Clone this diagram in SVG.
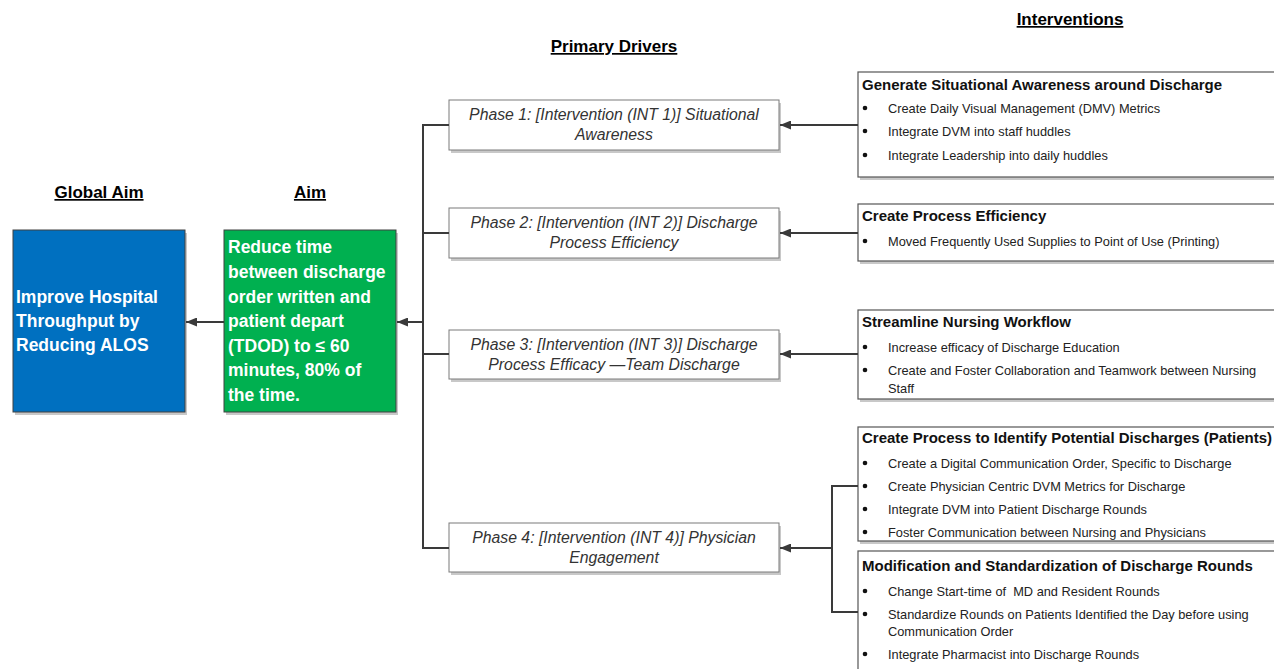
<svg xmlns="http://www.w3.org/2000/svg" width="1274" height="669" viewBox="0 0 1274 669">
<style>
.hdr{font-family:"Liberation Sans",Arial,sans-serif;font-weight:bold;font-size:17px;fill:#000;text-decoration:underline;text-anchor:middle}
.aim{font-family:"Liberation Sans",Arial,sans-serif;font-weight:bold;font-size:17.5px;fill:#fff}
.ph{font-family:"Liberation Sans",Arial,sans-serif;font-style:italic;font-size:15.8px;fill:#333;text-anchor:middle}
.phbox{fill:#fff;stroke:#7a7a7a;stroke-width:1}
.ibox{fill:#fff;stroke:#555;stroke-width:1.2}
.shadow{fill:#c8c8c8}
.ih{font-family:"Liberation Sans",Arial,sans-serif;font-weight:bold;font-size:15px;fill:#111}
.it{font-family:"Liberation Sans",Arial,sans-serif;font-size:12.8px;fill:#222}
.bul{fill:#111}
.con{fill:none;stroke:#3a3a3a;stroke-width:2}
</style>
<defs>
<marker id="arr" viewBox="0 0 11 9" refX="11" refY="4.5" markerWidth="11" markerHeight="9" markerUnits="userSpaceOnUse" orient="auto">
<path d="M0,0 L11,4.5 L0,9 z" fill="#3a3a3a"/>
</marker>
</defs>
<rect width="1274" height="669" fill="#fff"/>

<g id="headers">
<text class="hdr" x="99" y="198">Global Aim</text>
<text class="hdr" x="310" y="198">Aim</text>
<text class="hdr" x="614" y="52">Primary Drivers</text>
<text class="hdr" x="1070" y="25">Interventions</text>
</g>

<g id="global-aim">
<rect class="shadow" x="15" y="233" width="172" height="182"/>
<rect x="13" y="230" width="172" height="182" fill="#0070c0" stroke="#404040" stroke-width="1"/>
<text class="aim" x="16" y="303">Improve Hospital</text>
<text class="aim" x="16" y="327">Throughput by</text>
<text class="aim" x="16" y="351">Reducing ALOS</text>
</g>

<g id="aim">
<rect class="shadow" x="226" y="233" width="172" height="182"/>
<rect x="224" y="230" width="172" height="182" fill="#00b050" stroke="#404040" stroke-width="1"/>
<text class="aim" x="228" y="253">Reduce time</text>
<text class="aim" x="228" y="278">between discharge</text>
<text class="aim" x="228" y="303">order written and</text>
<text class="aim" x="228" y="327">patient depart</text>
<text class="aim" x="228" y="352">(TDOD) to ≤ 60</text>
<text class="aim" x="228" y="376">minutes, 80% of</text>
<text class="aim" x="228" y="401">the time.</text>
</g>

<g id="phase1">
<rect class="shadow" x="451" y="103" width="330" height="50"/>
<rect class="phbox" x="449" y="100" width="330" height="50"/>
<text class="ph" x="614" y="120">Phase 1: [Intervention (INT 1)] Situational</text>
<text class="ph" x="614" y="140">Awareness</text>
</g>
<g id="phase2">
<rect class="shadow" x="451" y="211" width="330" height="50"/>
<rect class="phbox" x="449" y="208" width="330" height="50"/>
<text class="ph" x="614" y="228">Phase 2: [Intervention (INT 2)] Discharge</text>
<text class="ph" x="614" y="248">Process Efficiency</text>
</g>
<g id="phase3">
<rect class="shadow" x="451" y="333" width="330" height="49"/>
<rect class="phbox" x="449" y="330" width="330" height="49"/>
<text class="ph" x="614" y="350">Phase 3: [Intervention (INT 3)] Discharge</text>
<text class="ph" x="614" y="370">Process Efficacy —Team Discharge</text>
</g>
<g id="phase4">
<rect class="shadow" x="451" y="526" width="330" height="49"/>
<rect class="phbox" x="449" y="523" width="330" height="49"/>
<text class="ph" x="614" y="543">Phase 4: [Intervention (INT 4)] Physician</text>
<text class="ph" x="614" y="563">Engagement</text>
</g>

<g id="int1">
<rect class="shadow" x="860" y="75" width="420" height="105"/>
<rect class="ibox" x="858" y="72" width="422" height="105"/>
<text class="ih" x="862" y="90">Generate Situational Awareness around Discharge</text>
<circle class="bul" cx="865" cy="108" r="2.3"/><text class="it" x="888" y="113">Create Daily Visual Management (DMV) Metrics</text>
<circle class="bul" cx="865" cy="131" r="2.3"/><text class="it" x="888" y="136">Integrate DVM into staff huddles</text>
<circle class="bul" cx="865" cy="155" r="2.3"/><text class="it" x="888" y="160">Integrate Leadership into daily huddles</text>
</g>
<g id="int2">
<rect class="shadow" x="860" y="207" width="420" height="57"/>
<rect class="ibox" x="858" y="204" width="422" height="57"/>
<text class="ih" x="862" y="221">Create Process Efficiency</text>
<circle class="bul" cx="865" cy="241" r="2.3"/><text class="it" x="888" y="246">Moved Frequently Used Supplies to Point of Use (Printing)</text>
</g>
<g id="int3">
<rect class="shadow" x="860" y="313" width="420" height="89"/>
<rect class="ibox" x="858" y="310" width="422" height="89"/>
<text class="ih" x="862" y="327">Streamline Nursing Workflow</text>
<circle class="bul" cx="865" cy="347" r="2.3"/><text class="it" x="888" y="352">Increase efficacy of Discharge Education</text>
<circle class="bul" cx="865" cy="370" r="2.3"/><text class="it" x="888" y="375">Create and Foster Collaboration and Teamwork between Nursing</text>
<text class="it" x="888" y="393">Staff</text>
</g>
<g id="int4">
<rect class="shadow" x="860" y="430" width="420" height="114"/>
<rect class="ibox" x="858" y="427" width="422" height="114"/>
<text class="ih" x="862" y="443">Create Process to Identify Potential Discharges (Patients)</text>
<circle class="bul" cx="865" cy="463" r="2.3"/><text class="it" x="888" y="468">Create a Digital Communication Order, Specific to Discharge</text>
<circle class="bul" cx="865" cy="486" r="2.3"/><text class="it" x="888" y="491">Create Physician Centric DVM Metrics for Discharge</text>
<circle class="bul" cx="865" cy="509" r="2.3"/><text class="it" x="888" y="514">Integrate DVM into Patient Discharge Rounds</text>
<circle class="bul" cx="865" cy="532" r="2.3"/><text class="it" x="888" y="537">Foster Communication between Nursing and Physicians</text>
</g>
<g id="int5">
<rect class="ibox" x="858" y="551" width="422" height="130"/>
<text class="ih" x="862" y="571">Modification and Standardization of Discharge Rounds</text>
<circle class="bul" cx="865" cy="591" r="2.3"/><text class="it" x="888" y="596">Change Start-time of&#160; MD and Resident Rounds</text>
<circle class="bul" cx="865" cy="614" r="2.3"/><text class="it" x="888" y="619">Standardize Rounds on Patients Identified the Day before using</text>
<text class="it" x="888" y="636">Communication Order</text>
<circle class="bul" cx="865" cy="654" r="2.3"/><text class="it" x="888" y="659">Integrate Pharmacist into Discharge Rounds</text>
</g>

<g id="connectors">
<line class="con" x1="224" y1="322" x2="186" y2="322" marker-end="url(#arr)"/>
<line class="con" x1="423" y1="322" x2="397" y2="322" marker-end="url(#arr)"/>
<path class="con" d="M449,125 H423 V548 H449"/>
<line class="con" x1="423" y1="233" x2="449" y2="233"/>
<line class="con" x1="423" y1="354" x2="449" y2="354"/>
<line class="con" x1="858" y1="125" x2="780" y2="125" marker-end="url(#arr)"/>
<line class="con" x1="858" y1="233" x2="780" y2="233" marker-end="url(#arr)"/>
<line class="con" x1="858" y1="354" x2="780" y2="354" marker-end="url(#arr)"/>
<path class="con" d="M858,486 H832 V612 H858"/>
<line class="con" x1="832" y1="548" x2="780" y2="548" marker-end="url(#arr)"/>
</g>
</svg>
